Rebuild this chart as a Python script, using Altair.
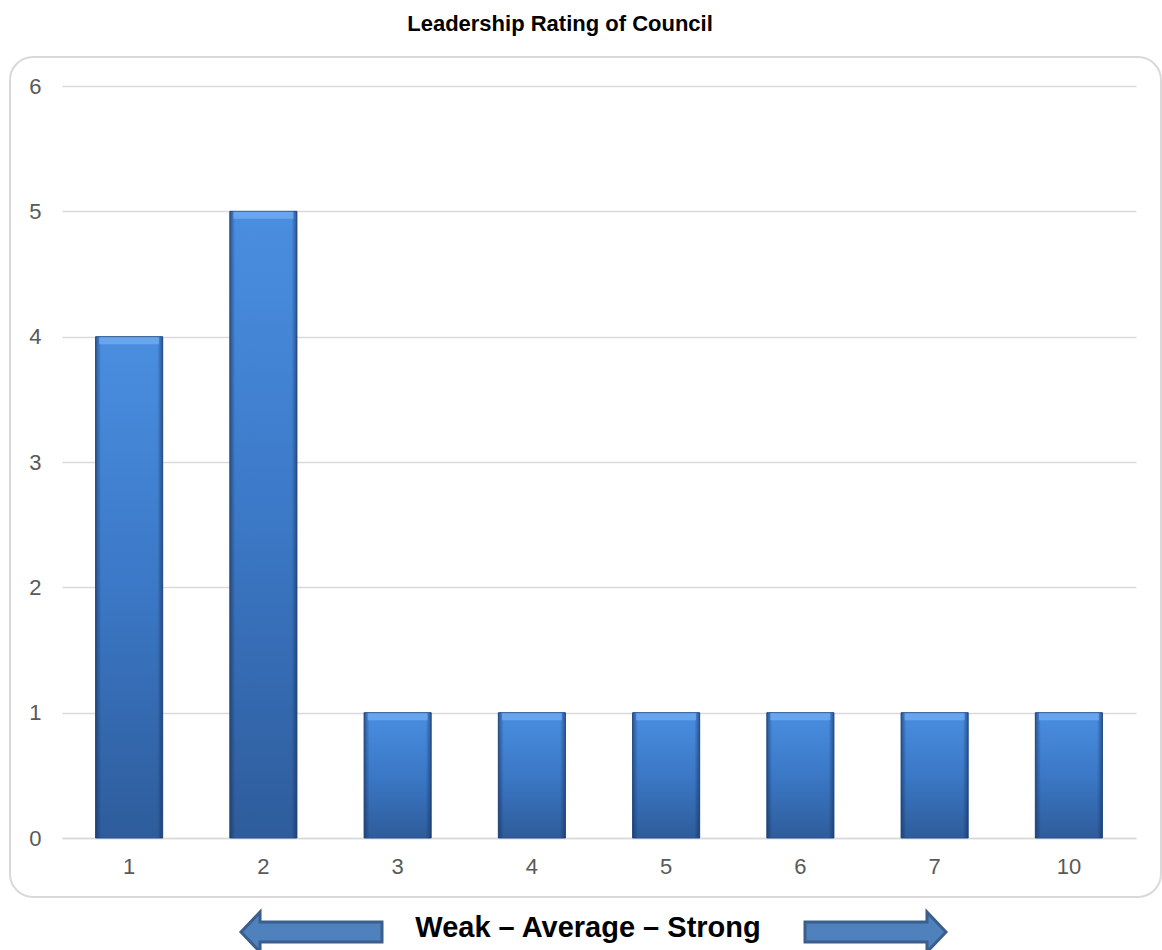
import altair as alt
import pandas as pd

# Survey results: how many respondents gave each leadership rating
ratings = ["1", "2", "3", "4", "5", "6", "7", "10"]
counts = [4, 5, 1, 1, 1, 1, 1, 1]
y_ticks = [0, 1, 2, 3, 4, 5, 6]

chart_title = "Leadership Rating of Council"
scale_caption = "Weak \u2013 Average \u2013 Strong"

df = pd.DataFrame({"rating": ratings, "count": counts})
one = pd.DataFrame({"k": [0]})

FONT = "Liberation Sans"
GREY_TEXT = "#595959"
GRID = "#d9d9d9"
W, H = 1074, 752

x_enc = alt.X(
    "rating:N", sort=ratings, title=None,
    scale=alt.Scale(paddingInner=0.5, paddingOuter=0.25),
    axis=alt.Axis(labelAngle=0, labelFontSize=22, labelColor=GREY_TEXT,
                  labelFont=FONT, labelPadding=18, ticks=False,
                  domainColor=GRID, domainWidth=1.5, grid=False),
)
y_enc = alt.Y(
    "count:Q", title=None,
    scale=alt.Scale(domain=[0, 6], nice=False),
    axis=alt.Axis(values=y_ticks, format="d", labelFontSize=22, labelColor=GREY_TEXT,
                  labelFont=FONT, labelPadding=21, ticks=False, domain=False,
                  gridColor=GRID, gridWidth=1.5),
)

# bar body: lighter blue at the top, deeper blue at the base
body_fill = {
    "gradient": "linear", "x1": 0, "y1": 0, "x2": 0, "y2": 1,
    "stops": [
        {"offset": 0, "color": "#4a8ee0"},
        {"offset": 0.5, "color": "#3b78c6"},
        {"offset": 1, "color": "#2e5c9b"},
    ],
}
# darker shading along the left and right edges of each bar
edge_fill = {
    "gradient": "linear", "x1": 0, "y1": 0, "x2": 1, "y2": 0,
    "stops": [
        {"offset": 0, "color": "rgba(18,42,84,0.55)"},
        {"offset": 0.08, "color": "rgba(18,42,84,0.0)"},
        {"offset": 0.92, "color": "rgba(18,42,84,0.0)"},
        {"offset": 1, "color": "rgba(18,42,84,0.55)"},
    ],
}

bars = alt.Chart(df).mark_bar(fill=body_fill, stroke="#2b5590", strokeWidth=1).encode(x=x_enc, y=y_enc)
edges = alt.Chart(df).mark_bar(fill=edge_fill).encode(x=x_enc, y=y_enc)
# light bevel along the top of each bar
bevel = alt.Chart(df).mark_tick(
    color="#74adf0", opacity=0.75, thickness=7, size=60, yOffset=4
).encode(x=x_enc, y=y_enc)

# rounded outline around the plot
frame = alt.Chart(one).mark_rect(
    fillOpacity=0, stroke=GRID, strokeWidth=2, cornerRadius=23
).encode(x=alt.value(-52), x2=alt.value(1099), y=alt.value(-29), y2=alt.value(811))

title = alt.Chart(one).mark_text(
    text=chart_title, font=FONT, fontSize=22, fontWeight="bold",
    color="black", align="center", baseline="alphabetic",
).encode(x=alt.value(498), y=alt.value(-55))

caption = alt.Chart(one).mark_text(
    text=scale_caption, font=FONT, fontSize=29, fontWeight="bold",
    color="black", align="center", baseline="alphabetic",
).encode(x=alt.value(526), y=alt.value(851))

# block arrows either side of the caption
left_arrow_path = "M -1 0 L -0.73 -0.284 L -0.73 -0.142 L 1 -0.142 L 1 0.142 L -0.73 0.142 L -0.73 0.284 Z"
right_arrow_path = "M 1 0 L 0.73 -0.284 L 0.73 -0.142 L -1 -0.142 L -1 0.142 L 0.73 0.142 L 0.73 0.284 Z"
arrow_style = dict(filled=True, fill="#4f81bd", fillOpacity=1, stroke="#3b5e8c",
                   strokeWidth=3, size=141 * 141)
left_arrow = alt.Chart(one).mark_point(shape=left_arrow_path, **arrow_style).encode(
    x=alt.value(249.5), y=alt.value(846))
right_arrow = alt.Chart(one).mark_point(shape=right_arrow_path, **arrow_style).encode(
    x=alt.value(813.5), y=alt.value(846))

chart = alt.layer(
    frame, bars, edges, bevel, title, caption, left_arrow, right_arrow
).properties(
    width=W, height=H,
    padding={"left": 62, "top": 86, "right": 26, "bottom": 112},
    autosize="none",
    background="white",
).configure_view(stroke=None)

chart.save("out.html", embed_options={"renderer": "svg", "actions": False})
